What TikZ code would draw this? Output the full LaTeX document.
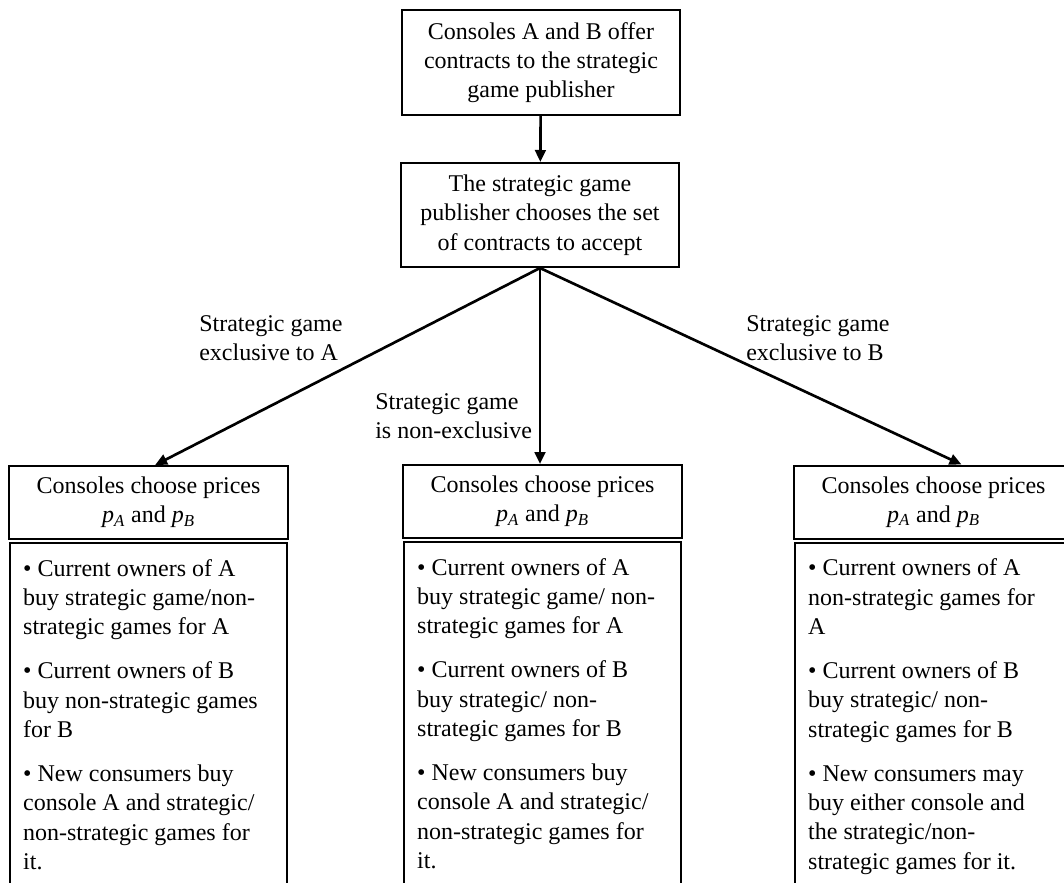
\documentclass[tikz,border=0pt]{standalone}
\usepackage{fontspec}
\setmainfont{Liberation Serif}
\usetikzlibrary{arrows.meta,positioning}

\newcommand{\pricepair}{\textit{p}\textsubscript{\textit{A}} and \textit{p}\textsubscript{\textit{B}}}
\newcommand{\bodytext}[1]{\parbox[t][330pt][t]{188pt}{\raggedright\strut #1}}

\begin{document}
\begin{tikzpicture}[x=0.75pt, y=-0.75pt,
  every node/.style={font=\fontsize{18pt}{22pt}\selectfont},
  box/.style={draw, line width=1.5pt, minimum width=209pt, align=center, inner sep=2pt},
  head/.style={box, minimum height=54.75pt},
  body/.style={draw, line width=1.5pt, inner xsep=10pt, inner ysep=9.5pt},
  arr/.style={line width=2pt, -{Triangle[length=9pt,width=8pt]}},
  lab/.style={anchor=west, align=left, inner sep=0pt}]
  \useasboundingbox (0,0) rectangle (1064,882);

  % Stages
  \node[box, minimum height=78.75pt] (offer) at (541,62.5)
    {Consoles A and B offer\\contracts to the strategic\\game publisher};
  \node[box, minimum height=78pt] (pub) at (540,215)
    {The strategic game\\publisher chooses the set\\of contracts to accept};

  % Price stage for each outcome
  \node[head] (headA) at (148.5,502.5) {Consoles choose prices\\\pricepair};
  \node[head] (headB) at (542.5,501.5) {Consoles choose prices\\\pricepair};
  \node[head] (headC) at (933.5,502)   {Consoles choose prices\\\pricepair};

  \node[body, below=1.5pt of headA] (bodyA) {\bodytext{%
    \textbullet{} Current owners of A\\buy strategic game/non-\\strategic games for A\\[11pt]
    \textbullet{} Current owners of B\\buy non-strategic games\\for B\\[11pt]
    \textbullet{} New consumers buy\\console A and strategic/\\non-strategic games for\\it.}};
  \node[body, below=1.5pt of headB] (bodyB) {\bodytext{%
    \textbullet{} Current owners of A\\buy strategic game/ non-\\strategic games for A\\[11pt]
    \textbullet{} Current owners of B\\buy strategic/ non-\\strategic games for B\\[11pt]
    \textbullet{} New consumers buy\\console A and strategic/\\non-strategic games for\\it.}};
  \node[body, below=1.5pt of headC] (bodyC) {\bodytext{%
    \textbullet{} Current owners of A\\non-strategic games for\\A\\[11pt]
    \textbullet{} Current owners of B\\buy strategic/ non-\\strategic games for B\\[11pt]
    \textbullet{} New consumers may\\buy either console and\\the strategic/non-\\strategic games for it.}};

  % Edges
  \draw[arr] (offer) -- (pub);
  \draw[arr] (pub.south) -- ([xshift=5pt]headA.north);
  \draw[arr] (pub.south) -- (pub.south |- headB.north);
  \draw[arr] (pub.south) -- ([xshift=21pt]headC.north);

  % Edge labels
  \node[lab] (labA) at (199,338) {Strategic game\\exclusive to A};
  \node[lab] (labB) at (375,416) {Strategic game\\is non-exclusive};
  \node[lab] (labC) at (746,338) {Strategic game\\exclusive to B};
\end{tikzpicture}
\end{document}
